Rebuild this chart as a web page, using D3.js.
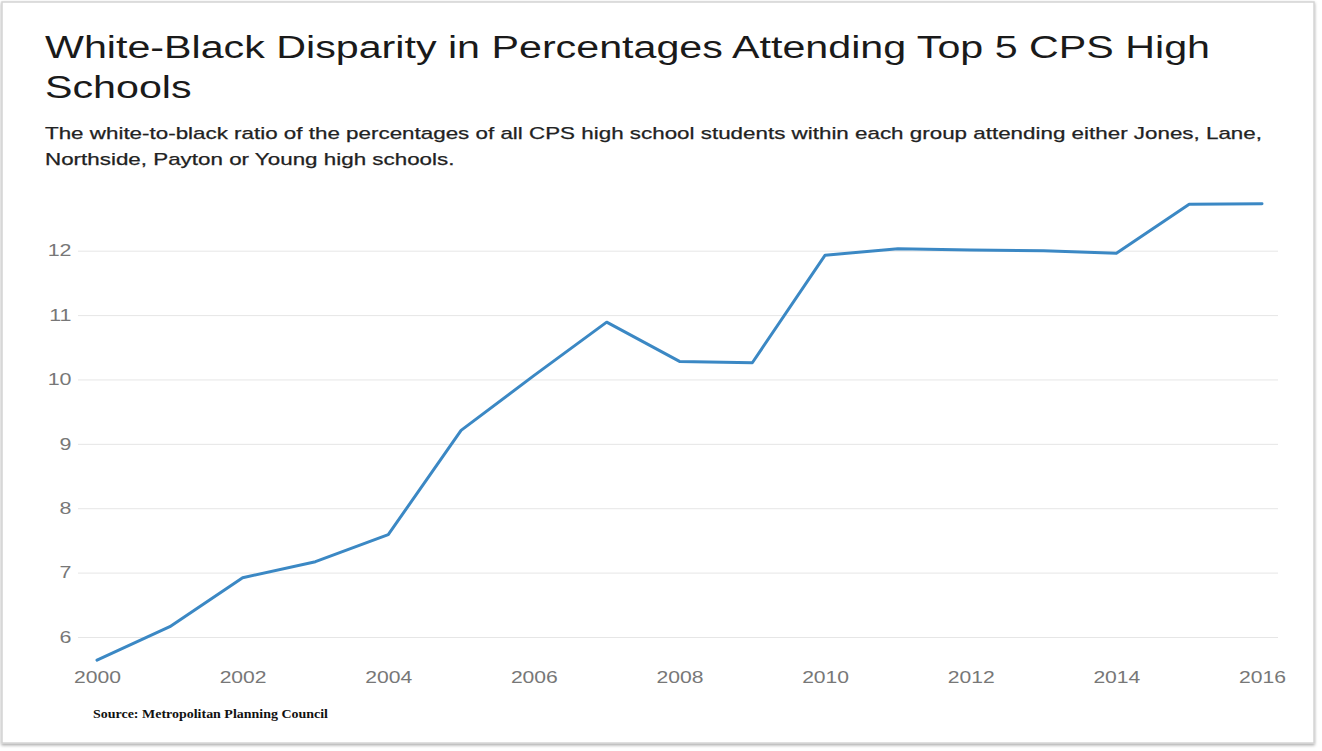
<!DOCTYPE html>
<html>
<head>
<meta charset="utf-8">
<script src="https://cdn.jsdelivr.net/npm/d3@7"></script>
<style>
  html, body { margin: 0; padding: 0; background: #ffffff; }
  svg { display: block; }
</style>
</head>
<body>
<div id="chart"></div>
<script>
const years = [2000, 2001, 2002, 2003, 2004, 2005, 2006, 2007, 2008, 2009, 2010, 2011, 2012, 2013, 2014, 2015, 2016];
const ratios = [5.64, 6.16, 6.92, 7.17, 7.59, 9.21, 10.06, 10.89, 10.28, 10.26, 11.93, 12.03, 12.01, 12.0, 11.96, 12.72, 12.73];
const yTicks = [6, 7, 8, 9, 10, 11, 12];
const xTicks = [2000, 2002, 2004, 2006, 2008, 2010, 2012, 2014, 2016];
const titleLines = ["White-Black Disparity in Percentages Attending Top 5 CPS High", "Schools"];
const subtitleLines = ["The white-to-black ratio of the percentages of all CPS high school students within each group attending either Jones, Lane,", "Northside, Payton or Young high schools."];
const sourceText = "Source: Metropolitan Planning Council";

const W = 1322, H = 751;
const svg = d3.select("#chart").append("svg").attr("width", W).attr("height", H);
const SANS = "'Liberation Sans', Arial, sans-serif";

function stretch(sel, factor) {
  sel.each(function () {
    const w = this.getComputedTextLength();
    d3.select(this).attr("textLength", w * factor).attr("lengthAdjust", "spacingAndGlyphs");
  });
}

const defs = svg.append("defs");
const f = defs.append("filter").attr("id", "shadow").attr("x", "-2%").attr("y", "-2%").attr("width", "104%").attr("height", "104%");
f.append("feDropShadow").attr("dx", 0).attr("dy", 1.5).attr("stdDeviation", 1.5).attr("flood-color", "#000").attr("flood-opacity", 0.35);

// card
svg.append("rect").attr("x", 2).attr("y", 2).attr("width", 1312).attr("height", 741)
  .attr("fill", "#fff").attr("stroke", "#d4d4d4").attr("stroke-width", 1.5).attr("filter", "url(#shadow)");

const x = d3.scaleLinear().domain([2000, 2016]).range([97, 1262]);
const y = d3.scaleLinear().domain([6, 12]).range([637, 250.7]);
const gridX0 = 78, gridX1 = 1278;

// grid + y labels via axis
const yAxis = d3.axisLeft(y).tickValues(yTicks).tickSize(-(gridX1 - gridX0)).tickPadding(6).tickFormat(d3.format("d"));
const gy = svg.append("g").attr("transform", `translate(${gridX0},0)`).call(yAxis);
gy.select(".domain").remove();
gy.selectAll(".tick line").attr("stroke", "#e6e6e6").attr("stroke-width", 1);
gy.selectAll(".tick text").attr("fill", "#777").style("font-family", SANS).style("font-size", "16.5px").attr("x", -6.5);
stretch(gy.selectAll(".tick text"), 1.3);

// x labels
const xAxis = d3.axisBottom(x).tickValues(xTicks).tickSize(0).tickPadding(0).tickFormat(d3.format("d"));
const gx = svg.append("g").attr("transform", "translate(0,666)").call(xAxis);
gx.select(".domain").remove();
gx.selectAll(".tick text").attr("fill", "#777").style("font-family", SANS).style("font-size", "16.5px").attr("dy", "1em");
stretch(gx.selectAll(".tick text"), 1.28);

// line
const line = d3.line().x((d, i) => x(years[i])).y(d => y(d));
svg.append("path").datum(ratios).attr("d", line).attr("fill", "none")
  .attr("stroke", "#3b88c4").attr("stroke-width", 3).attr("stroke-linejoin", "round").attr("stroke-linecap", "round");

// title
const title = svg.append("g");
titleLines.forEach((t, i) => {
  title.append("text").attr("x", 45).attr("y", 57.5 + i * 40).text(t)
    .attr("fill", "#1a1a1a").style("font-family", SANS).style("font-size", "31px");
});
const tNodes = title.selectAll("text").nodes();
const tFactor = 1165 / tNodes[0].getComputedTextLength();
stretch(title.selectAll("text"), tFactor);

const sub = svg.append("g");
subtitleLines.forEach((t, i) => {
  sub.append("text").attr("x", 45).attr("y", 138.5 + i * 26).text(t)
    .attr("fill", "#222").attr("stroke", "#222").attr("stroke-width", 0.25)
    .style("font-family", SANS).style("font-size", "17px");
});
const sNodes = sub.selectAll("text").nodes();
const sFactor = 1217 / sNodes[0].getComputedTextLength();
stretch(sub.selectAll("text"), sFactor);

const src = svg.append("text").attr("x", 93).attr("y", 718).text(sourceText)
  .attr("fill", "#111").style("font-family", "'Liberation Serif', 'Times New Roman', serif")
  .style("font-weight", "bold").style("font-size", "12.5px");
src.attr("textLength", 235).attr("lengthAdjust", "spacingAndGlyphs");
</script>
</body>
</html>
